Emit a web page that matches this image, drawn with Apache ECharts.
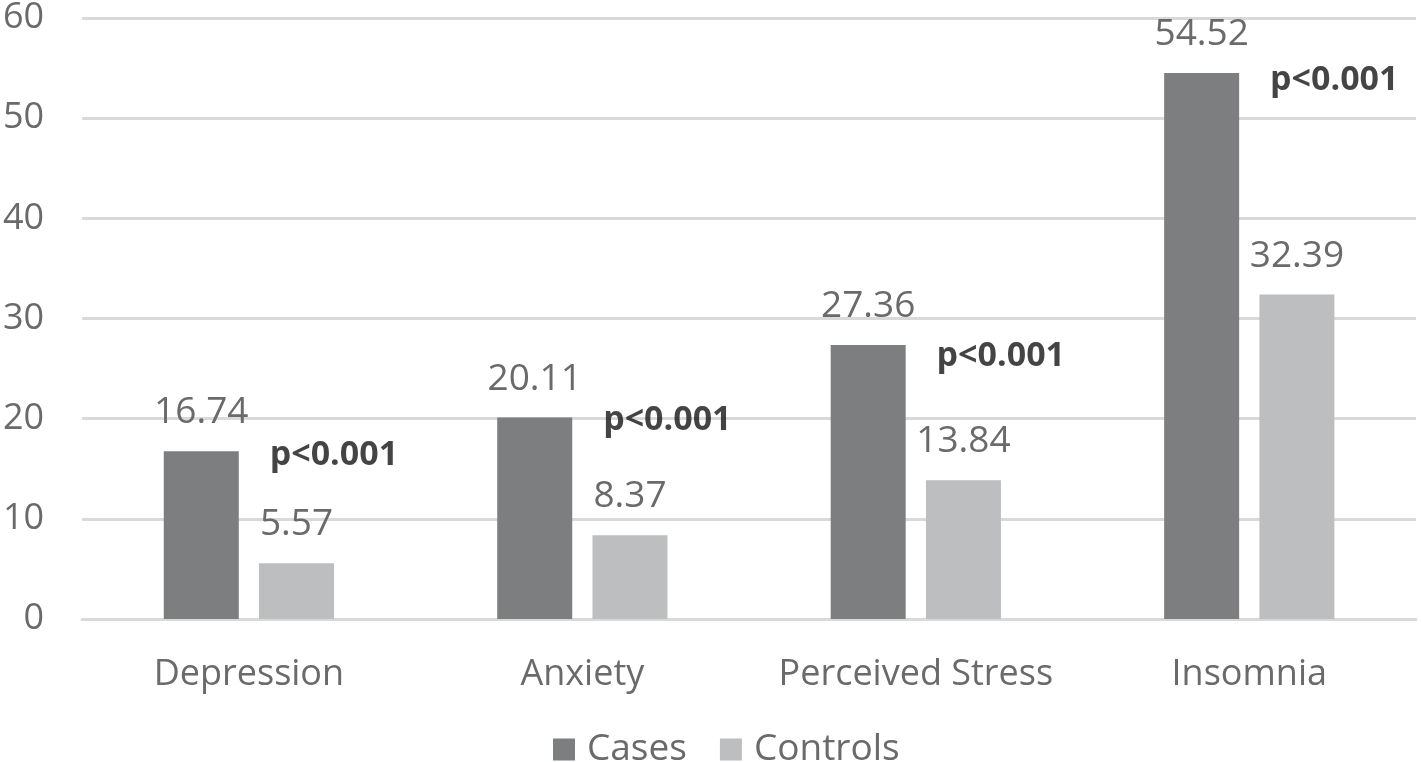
<!DOCTYPE html>
<html>
<head>
<meta charset="utf-8">
<script src="https://cdn.jsdelivr.net/npm/echarts@6/dist/echarts.min.js"></script>
<style>
  html, body { margin: 0; padding: 0; background: #fff; }
  #main { width: 1421px; height: 762px; }
</style>
</head>
<body>
<div id="main"></div>
<script>
var categories = ['Depression', 'Anxiety', 'Perceived Stress', 'Insomnia'];
var cases = [16.74, 20.11, 27.36, 54.52];
var controls = [5.57, 8.37, 13.84, 32.39];
// height where each p-value note sits
var pLevels = [16.3, 19.8, 26.2, 53.8];
var pTexts = ['p<0.001', 'p<0.001', 'p<0.001', 'p<0.001'];

var chart = echarts.init(document.getElementById('main'));
var txt = '#6a6a6a';
var fam = '"Open Sans", sans-serif';

chart.setOption({
  animation: false,
  grid: { left: 80, right: 5, top: 16, bottom: 143 },
  legend: {
    data: ['Cases', 'Controls'],
    bottom: -11,
    left: 548,
    icon: 'rect',
    itemWidth: 22,
    itemHeight: 22,
    itemGap: 33,
    textStyle: { color: txt, fontSize: 37, fontWeight: 500, fontFamily: fam, padding: [0, 0, 0, 7] }
  },
  xAxis: {
    type: 'category',
    data: categories,
    axisLine: { lineStyle: { color: '#d9d9d9', width: 3 } },
    axisTick: { show: false },
    axisLabel: { color: txt, fontSize: 36, fontWeight: 500, fontFamily: fam, margin: 38, interval: 0 }
  },
  yAxis: {
    type: 'value',
    min: 0,
    max: 60,
    interval: 10,
    axisLine: { show: false },
    axisTick: { show: false },
    splitLine: { lineStyle: { color: '#d9d9d9', width: 3 } },
    axisLabel: { color: txt, fontSize: 36, fontWeight: 500, fontFamily: fam, margin: 38 }
  },
  series: [
    {
      name: 'Cases',
      type: 'bar',
      data: cases,
      barWidth: 75,
      barGap: '27%',
      itemStyle: { color: '#7d7e80' },
      label: {
        show: true, position: 'top', distance: 20,
        color: txt, fontSize: 37, fontWeight: 500, fontFamily: fam
      }
    },
    {
      name: 'Controls',
      type: 'bar',
      data: controls,
      barWidth: 75,
      itemStyle: { color: '#bdbec0' },
      label: {
        show: true, position: 'top', distance: 20,
        color: txt, fontSize: 37, fontWeight: 500, fontFamily: fam
      }
    },
    {
      name: 'pvalue',
      type: 'scatter',
      symbolSize: 0,
      silent: true,
      data: pLevels.map(function (v, i) { return { value: v, label: { formatter: pTexts[i] } }; }),
      label: {
        show: true, position: 'inside', offset: [85, 0],
        color: '#151515', fontSize: 34, fontWeight: 'bold', fontFamily: fam
      }
    }
  ]
});
</script>
</body>
</html>
